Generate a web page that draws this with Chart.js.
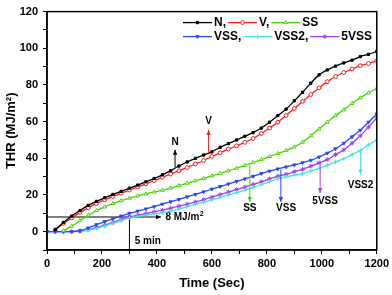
<!DOCTYPE html>
<html>
<head>
<meta charset="utf-8">
<script src="https://cdn.jsdelivr.net/npm/chart.js@4.4.1/dist/chart.umd.min.js"></script>
<style>
  html, body { margin: 0; padding: 0; background: #fff; }
  #wrap { width: 392px; height: 295px; }
</style>
</head>
<body>
<div id="wrap"><canvas id="thr" width="392" height="295"></canvas></div>
<script>
// time axis (s), one reading every 30 s
const times = [0, 30, 60, 90, 120, 150, 180, 210, 240, 270, 300, 330, 360, 390, 420, 450, 480, 510, 540, 570,
  600, 630, 660, 690, 720, 750, 780, 810, 840, 870, 900, 930, 960, 990, 1020, 1050, 1080, 1110, 1140, 1170, 1200];

// total heat release, MJ/m2 (null = no reading yet)
const thrN = [null, 1, 5, 8.5, 11.5, 14.3, 16.5, 18.5, 20.3, 22, 23.7, 25.4, 27.2, 29, 31, 33.3, 35.8, 38, 40, 41.8,
  43.5, 46, 48, 50, 52, 54, 56.5, 59.7, 63.3, 66.8, 71.3, 76, 81, 85.5, 88.2, 90.3, 92, 93.5, 95.5, 96.7, 98.3];
const thrV = [null, 1, 4.5, 7.5, 10.5, 13, 15.3, 17.3, 19.2, 21, 22.7, 24.4, 26.1, 27.8, 29.6, 31.4, 33.2, 35, 36.9, 38.8,
  41, 43, 45, 46.8, 48.7, 50.8, 53.5, 56.5, 59.7, 63.3, 67.2, 71, 74.8, 78.4, 81.8, 84.6, 86.8, 88.7, 90.5, 91.7, 93.2];
const thrSS = [null, null, 0.5, 3, 6, 9, 11.5, 13.5, 15.3, 16.9, 18.3, 19.5, 20.6, 21.6, 22.6, 23.8, 25.1, 26.4, 27.7, 29,
  30.4, 31.8, 33.2, 34.6, 36.1, 37.7, 39.3, 41, 42.6, 44.2, 46.2, 48.8, 52.3, 56, 59.7, 63.3, 66.5, 69.9, 73, 75.7, 78];
const thrVSS = [0, 0, 0, 0, 0.5, 2, 3.8, 5.5, 7, 8.5, 10, 11.2, 12.4, 13.6, 15, 16.3, 17.6, 19, 20.3, 21.7,
  23.2, 24.6, 26, 27.4, 28.8, 30.2, 31.7, 33, 34.2, 35.3, 36.4, 37.6, 38.9, 40.7, 42.8, 45.2, 48.2, 51.7, 55.3, 59.7, 64.2];
const thrVSS2 = [0, 0, 0, 0, 0.2, 0.8, 1.8, 3, 4.5, 6, 7.5, 8.3, 9, 9.7, 10.3, 11.2, 12.4, 13.6, 14.9, 16.1,
  17.4, 18.7, 20, 21.3, 22.6, 24.1, 25.7, 27.3, 28.9, 29.9, 30.8, 31.6, 33, 34.5, 36.3, 38, 39.8, 42, 44.3, 47.3, 50];
const thr5VSS = [0, 0, 0, 0, 0.3, 1, 2.2, 3.5, 5, 6.5, 8, 9, 9.9, 10.8, 11.7, 12.8, 13.9, 15, 16.2, 17.4,
  18.8, 20.2, 21.6, 23, 24.3, 25.8, 27.2, 28.8, 30.3, 31.3, 32.7, 34, 35.7, 37.5, 39.3, 42, 44.6, 48.2, 52.3, 57, 62];

// arrows that name each curve (data units)
const curveTags = [
  { name: 'N',    t: 466,  from: 35.2, to: 44.6, textY: 49 },
  { name: 'V',    t: 588,  from: 42.8, to: 55.5, textY: 60 },
  { name: 'SS',   t: 738,  from: 37.5, to: 16.2, textY: 12.6 },
  { name: 'VSS',  t: 851,  from: 33.9, to: 16.2, textY: 12.6, textT: 870 },
  { name: '5VSS', t: 994,  from: 38.4, to: 21,   textY: 16.7, textT: 1012 },
  { name: 'VSS2', t: 1141, from: 44.6, to: 31.2, textY: 25.1 },
];
const guideTHR = 8;      // MJ/m2
const guideTime = 300;   // s (5 min)

const legendRows = [['N', 'V', 'SS'], ['VSS', 'VSS2', '5VSS']];

function pts(arr) {
  const out = [];
  times.forEach((t, i) => { if (arr[i] !== null) out.push({ x: t, y: arr[i] }); });
  return out;
}

const FONT = '"Liberation Sans", Arial, sans-serif';

function arrow(ctx, x1, y1, x2, y2) {
  ctx.beginPath();
  ctx.moveTo(x1, y1);
  ctx.lineTo(x2, y2);
  ctx.stroke();
  const ang = Math.atan2(y2 - y1, x2 - x1);
  const len = 5, half = 2.2;
  ctx.beginPath();
  ctx.moveTo(x2, y2);
  ctx.lineTo(x2 - len * Math.cos(ang) + half * Math.sin(ang), y2 - len * Math.sin(ang) - half * Math.cos(ang));
  ctx.lineTo(x2 - len * Math.cos(ang) - half * Math.sin(ang), y2 - len * Math.sin(ang) + half * Math.cos(ang));
  ctx.closePath();
  ctx.fill();
}

const notes = {
  id: 'notes',
  beforeDatasetsDraw(chart) {
    const { ctx, scales: { x, y } } = chart;
    ctx.save();
    ctx.strokeStyle = '#000';
    ctx.fillStyle = '#000';
    ctx.lineWidth = 1;
    // 8 MJ/m2 horizontal guide with arrow
    const gy = y.getPixelForValue(guideTHR);
    arrow(ctx, x.getPixelForValue(0), gy, x.getPixelForValue(415), gy);
    // 5 min vertical guide
    const gx = x.getPixelForValue(guideTime);
    ctx.beginPath();
    ctx.moveTo(gx, gy);
    ctx.lineTo(gx, y.getPixelForValue(-10));
    ctx.stroke();
    ctx.fillRect(gx - 1.5, gy - 1.5, 3, 3);

    ctx.font = 'bold 10px ' + FONT;
    ctx.textBaseline = 'middle';
    ctx.textAlign = 'left';
    const tx = x.getPixelForValue(431);
    ctx.fillText('8 MJ/m', tx, gy);
    const w = ctx.measureText('8 MJ/m').width;
    ctx.font = 'bold 7px ' + FONT;
    ctx.fillText('2', tx + w + 0.5, gy - 3);
    ctx.font = 'bold 10px ' + FONT;
    ctx.fillText('5 min', x.getPixelForValue(319), y.getPixelForValue(-5.3));
    ctx.restore();
  },
  afterDatasetsDraw(chart) {
    const { ctx, chartArea: a, scales: { x, y } } = chart;
    ctx.save();
    ctx.font = 'bold 10px ' + FONT;
    ctx.textAlign = 'center';
    ctx.textBaseline = 'middle';
    ctx.lineWidth = 1;
    curveTags.forEach(tag => {
      const ds = chart.data.datasets.find(d => d.label === tag.name);
      ctx.strokeStyle = ds.borderColor;
      ctx.fillStyle = ds.borderColor;
      const px = x.getPixelForValue(tag.t);
      arrow(ctx, px, y.getPixelForValue(tag.from), px, y.getPixelForValue(tag.to));
      ctx.fillStyle = '#000';
      ctx.fillText(tag.name, x.getPixelForValue(tag.textT || tag.t), y.getPixelForValue(tag.textY));
    });

    // frame on top and right
    ctx.strokeStyle = '#000';
    ctx.lineWidth = 1.5;
    ctx.strokeRect(a.left, a.top, a.right - a.left, a.bottom - a.top);

    // legend inside the plot, two rows
    ctx.font = 'bold 12px ' + FONT;
    ctx.textAlign = 'left';
    legendRows.forEach((row, r) => {
      let cx = a.left + 136;
      const cy = a.top + 11 + r * 14;
      row.forEach((name, k) => {
        const i = chart.data.datasets.findIndex(d => d.label === name);
        const ds = chart.data.datasets[i];
        const el = chart.getDatasetMeta(i).data[0].options;
        ctx.strokeStyle = ds.borderColor;
        ctx.lineWidth = 1.3;
        ctx.beginPath();
        ctx.moveTo(cx, cy);
        ctx.lineTo(cx + 29, cy);
        ctx.stroke();
        ctx.fillStyle = el.backgroundColor;
        ctx.lineWidth = el.borderWidth;
        Chart.helpers.drawPoint(ctx, { pointStyle: el.pointStyle, radius: el.radius, rotation: el.rotation, borderWidth: el.borderWidth }, cx + 14.5, cy);
        const txt = k < row.length - 1 ? name + ',' : name;
        ctx.fillStyle = '#000';
        ctx.fillText(txt, cx + 31, cy + 0.5);
        cx += 31 + ctx.measureText(txt).width + 2;
      });
    });
    ctx.restore();
  }
};

const line = (label, data, color, fill, style, radius, rotation) => ({
  label,
  data: pts(data),
  borderColor: color,
  backgroundColor: fill,
  borderWidth: 1.3,
  pointStyle: style,
  pointRadius: radius,
  pointRotation: rotation || 0,
  pointBorderWidth: 1,
  pointBorderColor: color,
  pointBackgroundColor: fill,
  tension: 0.15
});

new Chart(document.getElementById('thr'), {
  type: 'line',
  data: {
    datasets: [
      line('N', thrN, '#000000', '#000000', 'rect', 1.6),
      line('V', thrV, '#ff1a1a', '#ffffff', 'circle', 1.9),
      line('SS', thrSS, '#44d800', '#ffffff', 'triangle', 2.1),
      line('VSS', thrVSS, '#2a48ff', '#2a48ff', 'triangle', 1.9, 180),
      line('VSS2', thrVSS2, '#44e4e4', '#44e4e4', 'cross', 2.1),
      line('5VSS', thr5VSS, '#a442f0', '#a442f0', 'star', 2.3)
    ]
  },
  options: {
    responsive: false,
    animation: false,
    devicePixelRatio: 1,
    layout: { padding: { top: 7, right: 13, left: 0, bottom: 0 } },
    plugins: { legend: { display: false }, tooltip: { enabled: false } },
    scales: {
      x: {
        type: 'linear',
        min: 0,
        max: 1200,
        afterFit: s => { s.height = 45; },
        ticks: {
          stepSize: 100,
          autoSkip: false,
          maxRotation: 0,
          padding: 3,
          color: '#000',
          font: { family: FONT, size: 11, weight: 'bold' },
          callback: v => (v % 200 === 0 ? v : '')
        },
        grid: { drawOnChartArea: false, tickLength: 4, color: '#000' },
        border: { color: '#000', width: 1.5 },
        title: {
          display: true,
          text: 'Time (Sec)',
          color: '#000',
          font: { family: FONT, size: 13, weight: 'bold' },
          padding: { top: 4, bottom: 4 }
        }
      },
      y: {
        min: -10,
        max: 120,
        afterFit: s => { s.width = 47; },
        ticks: {
          stepSize: 10,
          autoSkip: false,
          padding: 5,
          color: '#000',
          font: { family: FONT, size: 11, weight: 'bold' },
          callback: v => (v >= 0 && v % 20 === 0 ? v : '')
        },
        grid: { drawOnChartArea: false, tickLength: 4, color: '#000' },
        border: { color: '#000', width: 1.5 },
        title: {
          display: true,
          text: 'THR (MJ/m²)',
          color: '#000',
          font: { family: FONT, size: 13, weight: 'bold' },
          padding: { top: 4, bottom: 4 }
        }
      }
    }
  },
  plugins: [notes]
});
</script>
</body>
</html>
